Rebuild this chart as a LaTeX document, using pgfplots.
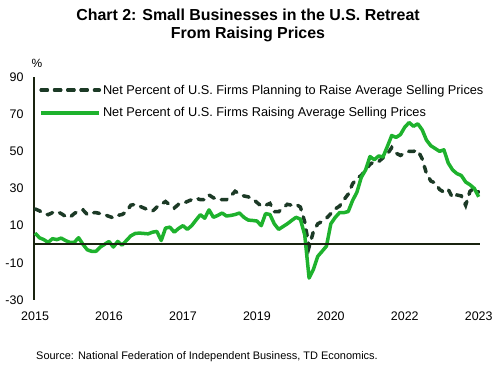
\documentclass[border=0pt]{standalone}
\usepackage{pgfplots}
\pgfplotsset{compat=1.18}
\usepackage{fontspec}
\setmainfont{Liberation Sans}
\definecolor{dgreen}{RGB}{28,58,38}
\definecolor{bgreen}{RGB}{30,178,45}
\definecolor{axcol}{RGB}{25,35,15}
\begin{document}
\begin{tikzpicture}
\begin{axis}[
  name=ax,
  scale only axis,
  width=446bp, height=223bp,
  xmin=-0.25, xmax=102.3,
  ymin=-30, ymax=90,
  xtick={0,17,34,51,68,85,102},
  xticklabels={2015,2016,2017,2019,2020,2022,2023},
  ytick={-30,-10,10,30,50,70,90},
  axis x line*=bottom,
  x axis line style={draw=none},
  axis y line*=left,
  y axis line style={draw=axcol, line width=2bp, -},
  major tick length=0pt,
  tick label style={font=\fontsize{12.5}{14}\selectfont, text=black},
  yticklabel style={xshift=-7bp},
  xticklabel style={yshift=-8.5bp},
  /pgf/number format/assume math mode=true,
  legend style={at={(rel axis cs:0.012,0.975)}, anchor=north west, draw=none, fill=none,
    font=\fontsize{12.8}{15}\selectfont, row sep=8.2bp, inner sep=0bp},
  legend cell align=left,
  legend image code/.code={\draw[#1] (0bp,0bp) -- (52bp,0bp); \path (0bp,0bp) -- (58bp,0bp);},
]
\addplot[dgreen, line width=3.5bp, line cap=round, dash pattern=on 6bp off 7.3bp] coordinates {
(0,19) (1,18) (2,16.5) (3,15.9) (4,17) (5,17.6) (6,16.5) (7,15) (8,14.5) (9,16.5)
(10,18) (11,18.5) (12,16) (13,17) (14,17) (15,16.5) (16,15.9) (17,15) (18,14.2) (19,15.5)
(20,16) (21,17.5) (22,21) (23,21.5) (24,20.5) (25,19.5) (26,18.5) (27,17.8) (28,20) (29,21.5)
(30,23) (31,21) (32,19.5) (33,21.5) (34,22) (35,23) (36,24) (37,24.8) (38,24) (39,24)
(40,26.5) (41,25) (42,24) (43,24) (44,24) (45,26) (46,28.5) (47,27) (48,26) (49,25.5)
(50,24.5) (51,22.5) (52,20.5) (53,21) (54,22) (55,17.5) (56,17.5) (57,19.5) (58,21.5) (59,21)
(60,21.5) (61,20) (62,12) (63,-1.5) (64,6.9) (65,11) (66,12.3) (67,14) (68,16.5) (69,19)
(70,20.5) (71,23.9) (72,27) (73,32.5) (74,35.5) (75,37) (76,40) (77,43) (78,44.5) (79,44.5)
(80,46.5) (81,48.5) (82,52) (83,49) (84,47.8) (85,49) (86,50) (87,50) (88,50.5) (89,46)
(90,38) (91,34) (92,33) (93,29.5) (94,28) (95,29.5) (96,25) (97,26.5) (98,26) (99,21)
(100,28.5) (101,30.2) (102,28)
};
\addlegendentry{Net Percent of U.S. Firms Planning to Raise Average Selling Prices}
\addplot[bgreen, line width=3.5bp, line join=round] coordinates {
(0,6) (1,3.5) (2,2.5) (3,1) (4,3) (5,2.5) (6,3.3) (7,2) (8,1) (9,1)
(10,3.5) (11,0) (12,-3) (13,-3.8) (14,-3.8) (15,-1.5) (16,0) (17,1.5) (18,-1.5) (19,1.5)
(20,-0.5) (21,2) (22,4.5) (23,5.8) (24,6) (25,5.8) (26,5.6) (27,6.5) (28,6.9) (29,2)
(30,8.7) (31,9.2) (32,6.5) (33,8.5) (34,10) (35,8) (36,10) (37,13) (38,15.9) (39,14)
(40,18.5) (41,14.5) (42,15.5) (43,16.8) (44,15.2) (45,15.5) (46,16) (47,16.8) (48,14.5) (49,13)
(50,12.8) (51,12.5) (52,10) (53,16.5) (54,16) (55,11) (56,8) (57,9.5) (58,11) (59,12.8)
(60,14.5) (61,13.5) (62,5) (63,-18.2) (64,-13.5) (65,-6.5) (66,-3.8) (67,-1) (68,11) (69,14.4)
(70,17) (71,17) (72,17.6) (73,23.5) (74,28) (75,36) (76,40) (77,47.2) (78,45.5) (79,47.5)
(80,47) (81,52.6) (82,58.5) (83,57.5) (84,59) (85,63) (86,65.5) (87,63.5) (88,64.8) (89,61.6)
(90,56) (91,53) (92,51.5) (93,50) (94,50.8) (95,43.7) (96,40) (97,38) (98,37) (99,33.5)
(100,32) (101,30) (102,25.5)
};
\addlegendentry{Net Percent of U.S. Firms Raising Average Selling Prices}
\addplot[axcol, line width=2bp, forget plot] coordinates {(-0.25,0) (102.3,0)};
\end{axis}
\node[font=\fontsize{12}{14}\selectfont, anchor=center] at ([xshift=3bp,yshift=14bp]ax.north west) {\%};
\node[font=\bfseries\fontsize{16}{18}\selectfont, anchor=base] at ([xshift=214bp,yshift=56.3bp]ax.north west) {Chart 2: Small Businesses in the U.S. Retreat};
\node[font=\bfseries\fontsize{16}{18}\selectfont, anchor=base] at ([xshift=214bp,yshift=38.7bp]ax.north west) {From Raising Prices};
\node[font=\fontsize{11}{13}\selectfont, anchor=base west, inner sep=0pt] at ([xshift=2bp,yshift=-60bp]ax.south west) {Source: National Federation of Independent Business, TD Economics.};
\pgfresetboundingbox
\path (ax.north west) ++(-34bp,77bp) rectangle ++(496bp,-370bp);
\end{tikzpicture}
\end{document}
